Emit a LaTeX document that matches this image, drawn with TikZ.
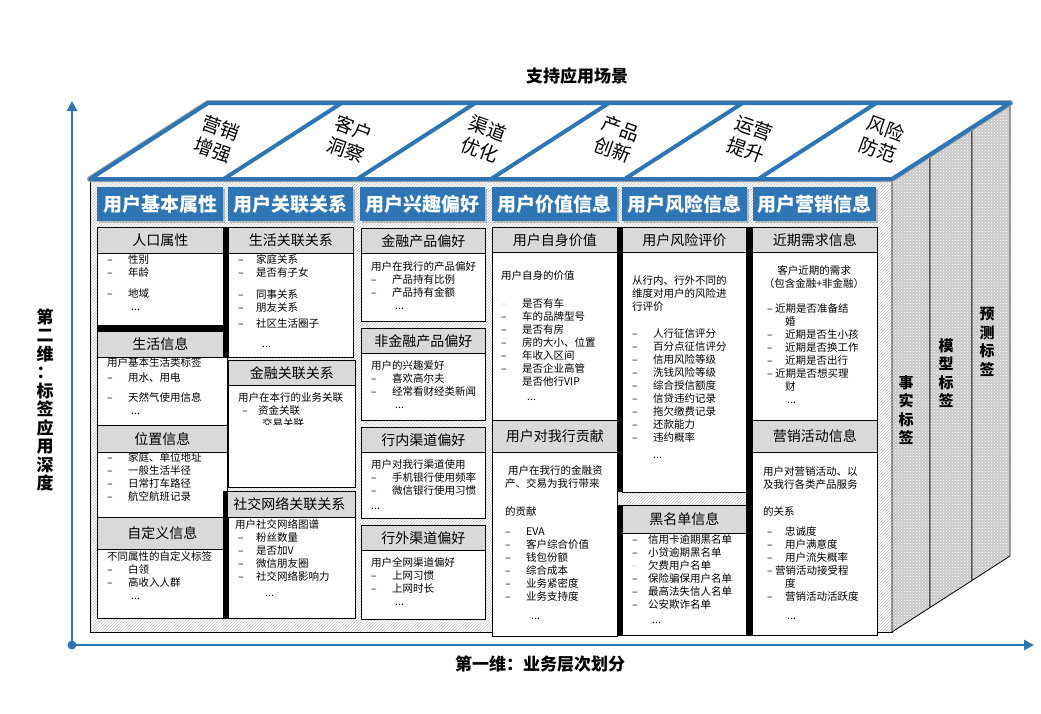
\documentclass[tikz,border=0pt]{standalone}
\usepackage{fontspec}
\setmainfont{Noto Sans CJK SC}
\usetikzlibrary{arrows.meta,positioning,patterns,shadows}
\definecolor{Azure}{HTML}{2E75B6}
\definecolor{HdrGray}{HTML}{D9D9D9}
\definecolor{Hatch}{HTML}{C4C4C4}
\definecolor{SideGray}{HTML}{C9C9C9}
\newcommand{\dd}[1][21pt]{\makebox[#1][l]{–}}
\tikzset{
  axisline/.style={line width=2.6pt,draw=Azure},
  bluehdr/.style={anchor=north west,fill=Azure,text=white,font=\fontsize{19pt}{21pt}\selectfont\bfseries,minimum height=34pt,inner sep=0pt,general shadow={fill=gray!55,shadow xshift=1.5pt,shadow yshift=-1.5pt}},
  grayhdr/.style={anchor=north west,draw=black,line width=0.8pt,fill=HdrGray,font=\fontsize{14pt}{16pt}\selectfont,minimum height=25pt,inner sep=0pt},
  bodybox/.style={anchor=north west,draw=black,line width=0.8pt,fill=white,inner sep=0pt},
  bodytxt/.style={anchor=north west,align=left,inner sep=0pt,font=\fontsize{10.5pt}{13pt}\selectfont},
  tiletxt/.style={rotate=-20,align=center,font=\fontsize{19pt}{23pt}\selectfont},
  sidetxt/.style={align=center,font=\fontsize{15pt}{18.5pt}\selectfont\bfseries},
  axistxt/.style={font=\fontsize{17pt}{18.5pt}\selectfont\bfseries},
  frontface/.style={draw=black,line width=0.8pt,preaction={fill=white},pattern=north east lines,pattern color=Hatch},
  slab/.style={draw=black,line width=0.8pt,preaction={fill=SideGray},pattern=crosshatch dots,pattern color=white},
  topdiv/.style={draw=Azure,line width=4pt},
  shadowbar/.style={fill=black}
}
\begin{document}
\begin{tikzpicture}[x=1pt,y=-1pt]
  \useasboundingbox (0,0) rectangle (1041,713);
  % axes
  \coordinate (org) at (72,645);
  \coordinate (ytop) at (72,101);
  \coordinate (xend) at (1034,645);
  \draw[axisline,-{Triangle[length=10pt,width=10pt]}] (org) -- (ytop);
  \draw[axisline,-{Triangle[length=10pt,width=10pt]}] (org) -- (xend);
  \fill[Azure] (org) circle (4.5pt);
  \node[axistxt] (scene) at (577,76) {支持应用场景};
  \node[axistxt] (dim1) at (540,664) {第一维：业务层次划分};
  \node[axistxt,align=center] (dim2) at (45,400) {第\\二\\维\\：\\标\\签\\应\\用\\深\\度};

  % front face and side slabs
  \draw[frontface] (90,179) rectangle (892,632);
  \draw[slab] (892,179) -- (930,154.5) -- (930,607.5) -- (892,632) -- cycle;
  \draw[slab] (930,154.5) -- (972,127.5) -- (972,580.5) -- (930,607.5) -- cycle;
  \draw[slab] (972,127.5) -- (1010,103) -- (1010,556) -- (972,580.5) -- cycle;
  \node[sidetxt] (fact) at (906,410) {事\\实\\标\\签};
  \node[sidetxt] (model) at (946,373) {模\\型\\标\\签};
  \node[sidetxt] (pred) at (987,342) {预\\测\\标\\签};

  % top face with scenes
  \draw[gray!70,line width=6pt,line join=round] (90,179) -- (892,179) -- (1010,103) -- (208,103) -- cycle;
  \filldraw[fill=white,topdiv,line join=round] (90,179) -- (892,179) -- (1010,103) -- (208,103) -- cycle;
  \draw[topdiv] (223.7,179) -- (341.7,103);
  \draw[topdiv] (357.3,179) -- (475.3,103);
  \draw[topdiv] (491,179) -- (609,103);
  \draw[topdiv] (624.7,179) -- (742.7,103);
  \draw[topdiv] (758.3,179) -- (876.3,103);
  \node[tiletxt] (sc1) at (217,139) {营销\\增强};
  \node[tiletxt] (sc2) at (350,139) {客户\\洞察};
  \node[tiletxt] (sc3) at (484,139) {渠道\\优化};
  \node[tiletxt] (sc4) at (617,139) {产品\\创新};
  \node[tiletxt] (sc5) at (750,139) {运营\\提升};
  \node[tiletxt] (sc6) at (882,139) {风险\\防范};

  % layer headers
  \node[bluehdr,minimum width=126pt] (lay1) at (97,187) {用户基本属性};
  \node[bluehdr,minimum width=125pt] (lay2) at (228,187) {用户关联关系};
  \node[bluehdr,minimum width=125pt] (lay3) at (360,187) {用户兴趣偏好};
  \node[bluehdr,minimum width=125pt] (lay4) at (492,187) {用户价值信息};
  \node[bluehdr,minimum width=125pt] (lay5) at (622,187) {用户风险信息};
  \node[bluehdr,minimum width=123pt] (lay6) at (753,187) {用户营销信息};

  % column 1
  \node[grayhdr,minimum width=126pt,minimum height=26pt] (rkh) at (97,227) {人口属性};
  \node[bodybox,minimum width=126pt,minimum height=73pt] (rkb) at (97,253) {};
  \node[bodytxt] (rkt) at (107,254) {\dd 性别\\\dd 年龄\\[8pt]\dd 地域\\\hspace{24pt}...};
  \node[grayhdr,minimum width=126pt,minimum height=26pt] (shh) at (97,331) {生活信息};
  \node[bodybox,minimum width=130pt,minimum height=68pt] (shb) at (97,357) {};
  \node[bodytxt] (sht) at (107,357) {用户基本生活类标签\\[2pt]\dd 用水、用电\\[7pt]\dd 天然气使用信息\\\hspace{24pt}...};
  \node[grayhdr,minimum width=130pt,minimum height=27pt] (wzh) at (97,425) {位置信息};
  \node[bodybox,minimum width=130pt,minimum height=65pt] (wzb) at (97,452) {};
  \node[bodytxt] (wzt) at (107,452) {\dd 家庭、单位地址\\\dd 一般生活半径\\\dd 日常打车路径\\\dd 航空航班记录};
  \node[grayhdr,minimum width=130pt,minimum height=32pt] (zdyh) at (97,517) {自定义信息};
  \node[bodybox,minimum width=130pt,minimum height=69pt] (zdyb) at (97,549) {};
  \node[bodytxt] (zdyt) at (107,551) {不同属性的自定义标签\\\dd 白领\\\dd 高收入人群\\\hspace{24pt}...};
  \fill[shadowbar] (97,325) rectangle (223,331);
  \fill[shadowbar] (223,227) rectangle (228,357);

  % column 2
  \node[grayhdr,minimum width=125pt,minimum height=26pt] (shglh) at (228,227) {生活关联关系};
  \node[bodybox,minimum width=125pt,minimum height=104pt] (shglb) at (228,253) {};
  \node[bodytxt] (shglt) at (238,254) {\dd[18pt]家庭关系\\\dd[18pt]是否有子女\\[9pt]\dd[18pt]同事关系\\\dd[18pt]朋友关系\\[3pt]\dd[18pt]社区生活圈子\\[7pt]\hspace{24pt}...};
  \node[grayhdr,minimum width=127pt] (jrglh) at (228,360) {金融关联关系};
  \node[bodybox,minimum width=127pt,minimum height=102pt] (jrglb) at (228,385) {};
  \begin{scope}
    \clip (229,386) rectangle (354,424);
    \node[bodytxt] (jrglt) at (238,392) {用户在本行的业务关联\\\hspace{4pt}\dd[16pt]资金关联\\\hspace{24pt}交易关联};
  \end{scope}
  \node[grayhdr,minimum width=132pt,minimum height=26pt] (sjwlh) at (223,491) {社交网络关联关系};
  \node[bodybox,minimum width=127pt,minimum height=101pt] (sjwlb) at (228,517) {};
  \node[bodytxt] (sjwlt) at (235,519) {用户社交网络图谱\\\hspace{3pt}\dd[18pt]粉丝数量\\\hspace{3pt}\dd[18pt]是否加V\\\hspace{3pt}\dd[18pt]微信朋友圈\\\hspace{3pt}\dd[18pt]社交网络影响力\\[3pt]\hspace{30pt}...};
  \fill[shadowbar] (223,491) rectangle (228,618);

  % column 3
  \node[grayhdr,minimum width=124pt] (jrcph) at (361,228) {金融产品偏好};
  \node[bodybox,minimum width=124pt,minimum height=68pt] (jrcpb) at (361,253) {};
  \node[bodytxt] (jrcpt) at (371,261) {用户在我行的产品偏好\\\dd 产品持有比例\\\dd 产品持有金额\\\hspace{24pt}...};
  \node[grayhdr,minimum width=124pt] (fjrh) at (361,328) {非金融产品偏好};
  \node[bodybox,minimum width=124pt,minimum height=67pt] (fjrb) at (361,353) {};
  \node[bodytxt] (fjrt) at (371,360) {用户的兴趣爱好\\\dd 喜欢高尔夫\\\dd 经常看财经类新闻\\\hspace{24pt}...};
  \node[grayhdr,minimum width=124pt] (hnqdh) at (361,427) {行内渠道偏好};
  \node[bodybox,minimum width=124pt,minimum height=66pt] (hnqdb) at (361,452) {};
  \node[bodytxt] (hnqdt) at (371,459) {用户对我行渠道使用\\\dd 手机银行使用频率\\\dd 微信银行使用习惯\\[2pt]...};
  \node[grayhdr,minimum width=124pt] (hwqdh) at (361,525) {行外渠道偏好};
  \node[bodybox,minimum width=124pt,minimum height=69pt] (hwqdb) at (361,550) {};
  \node[bodytxt] (hwqdt) at (371,557) {用户全网渠道偏好\\\dd 上网习惯\\\dd 上网时长\\\hspace{24pt}...};

  % column 4
  \node[grayhdr,minimum width=125pt] (zsjzh) at (492,227) {用户自身价值};
  \node[bodybox,minimum width=125pt,minimum height=168pt] (zsjzb) at (492,252) {};
  \node[bodytxt] (zsjzt) at (501,270) {用户自身的价值\\[15pt]\textcolor{gray!35}{\dd}是否有车\\\dd 车的品牌型号\\\dd 是否有房\\\dd 房的大小、位置\\\dd 年收入区间\\\dd 是否企业高管\\\hspace{21pt}是否他行VIP\\[2pt]\hspace{26pt}...};
  \node[grayhdr,minimum width=125pt,minimum height=32pt] (gxh) at (492,420) {用户对我行贡献};
  \node[bodybox,minimum width=125pt,minimum height=184pt] (gxb) at (492,452) {};
  \node[bodytxt] (gxt) at (505,465) {\hspace{3pt}用户在我行的金融资\\产、交易为我行带来\\[15pt]的贡献\\[7pt]\dd EVA\\\dd 客户综合价值\\\dd 钱包份额\\\dd 综合成本\\\dd 业务紧密度\\\dd 业务支持度\\[6pt]\hspace{26pt}...};
  \fill[shadowbar] (617,227) rectangle (622,492);
  \fill[shadowbar] (617,505) rectangle (622,636);

  % column 5
  \node[grayhdr,minimum width=124pt] (fxpjh) at (622,227) {用户风险评价};
  \node[bodybox,minimum width=124pt,minimum height=240pt] (fxpjb) at (622,252) {};
  \node[bodytxt] (fxpjt) at (632,275) {从行内、行外不同的\\维度对用户的风险进\\行评价\\[14pt]\dd 人行征信评分\\\dd 百分点征信评分\\\dd 信用风险等级\\\dd 洗钱风险等级\\\dd 综合授信额度\\\dd 信贷违约记录\\\dd 拖欠缴费记录\\\dd 还款能力\\\dd 违约概率\\[4pt]\hspace{21pt}...};
  \node[grayhdr,minimum width=124pt,minimum height=28pt] (hmdh) at (622,505) {黑名单信息};
  \node[bodybox,minimum width=124pt,minimum height=102pt] (hmdb) at (622,533) {};
  \node[bodytxt] (hmdt) at (632,534) {\dd[16pt]信用卡逾期黑名单\\\dd[16pt]小贷逾期黑名单\\\textcolor{gray!40}{\dd[16pt]}欠费用户名单\\\dd[16pt]保险骗保用户名单\\\dd[16pt]最高法失信人名单\\\dd[16pt]公安欺诈名单\\[2pt]\hspace{20pt}...};
  \fill[shadowbar] (746,227) rectangle (752,636);

  % column 6
  \node[grayhdr,minimum width=125pt] (xqh) at (752,227) {近期需求信息};
  \node[bodybox,minimum width=125pt,minimum height=168pt] (xqb) at (752,252) {};
  \node[bodytxt,anchor=center,align=center] (xqa) at (814,277) {客户近期的需求\\（包含金融+非金融）};
  \node[bodytxt] (xqt) at (767,303) {\dd[8pt]近期是否准备结\\\hspace{18pt}婚\\\dd[18pt]近期是否生小孩\\\dd[18pt]近期是否换工作\\\dd[18pt]近期是否出行\\\dd[8pt]近期是否想买理\\\hspace{18pt}财\\\hspace{20pt}...};
  \node[grayhdr,minimum width=125pt,minimum height=32pt] (yxh) at (752,420) {营销活动信息};
  \node[bodybox,minimum width=125pt,minimum height=183pt] (yxb) at (752,452) {};
  \node[bodytxt] (yxt) at (763,466) {用户对营销活动、以\\及我行各类产品服务\\[14pt]的关系\\[7pt]\hspace{4pt}\dd[18pt]忠诚度\\\hspace{4pt}\dd[18pt]用户满意度\\\hspace{4pt}\dd[18pt]用户流失概率\\\hspace{4pt}\dd[8pt]营销活动接受程\\\hspace{22pt}度\\\hspace{4pt}\dd[18pt]营销活动活跃度\\[6pt]\hspace{24pt}...};
\end{tikzpicture}
\end{document}
